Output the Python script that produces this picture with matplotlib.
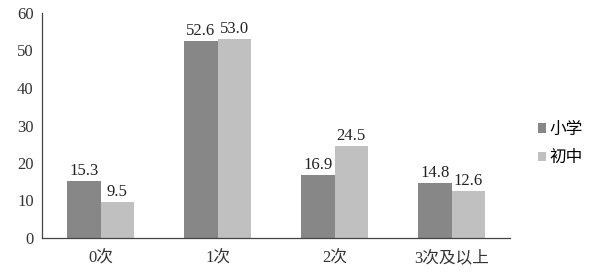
import matplotlib
matplotlib.use("Agg")
import matplotlib.pyplot as plt
import numpy as np

categories = ["0次", "1次", "2次", "3次及以上"]
primary = [15.3, 52.6, 16.9, 14.8]
junior = [9.5, 53.0, 24.5, 12.6]
series_names = ["小学", "初中"]
yticks = [0, 10, 20, 30, 40, 50, 60]

plt.rcParams["font.family"] = ["Liberation Serif", "Noto Sans CJK SC"]

fig = plt.figure(figsize=(6.06, 2.8), dpi=100)
ax = fig.add_axes([42 / 606, 1 - 238 / 280, 468 / 606, 225 / 280])

x = np.arange(len(categories))
w = 0.286
b1 = ax.bar(x - w / 2, primary, w, color="#878787", label=series_names[0])
b2 = ax.bar(x + w / 2, junior, w, color="#c0c0c0", label=series_names[1])

for bars, vals in ((b1, primary), (b2, junior)):
    for r, v in zip(bars, vals):
        ax.text(r.get_x() + r.get_width() / 2, v + 0.5, f"{v:.1f}",
                ha="center", va="bottom", fontsize=12, color="#222222")

ax.set_xlim(-0.5, len(categories) - 0.5)
ax.set_ylim(0, 60)
ax.set_yticks(yticks)
ax.set_xticks(x)
ax.set_xticklabels(categories)
ax.tick_params(axis="both", length=0, labelsize=12, colors="#333333")
ax.tick_params(axis="x", pad=9)
ax.tick_params(axis="y", pad=6)
for s in ("top", "right"):
    ax.spines[s].set_visible(False)
for s in ("left", "bottom"):
    ax.spines[s].set_color("#444444")
    ax.spines[s].set_linewidth(0.9)

fig.legend(handles=[b1, b2], labels=series_names, loc="center left",
           bbox_to_anchor=(523 / 606, 1 - 144 / 280), frameon=False,
           fontsize=12, handlelength=0.5, handleheight=0.5,
           handletextpad=0.2, labelspacing=0.75)

fig.savefig("out.png", dpi=100)
